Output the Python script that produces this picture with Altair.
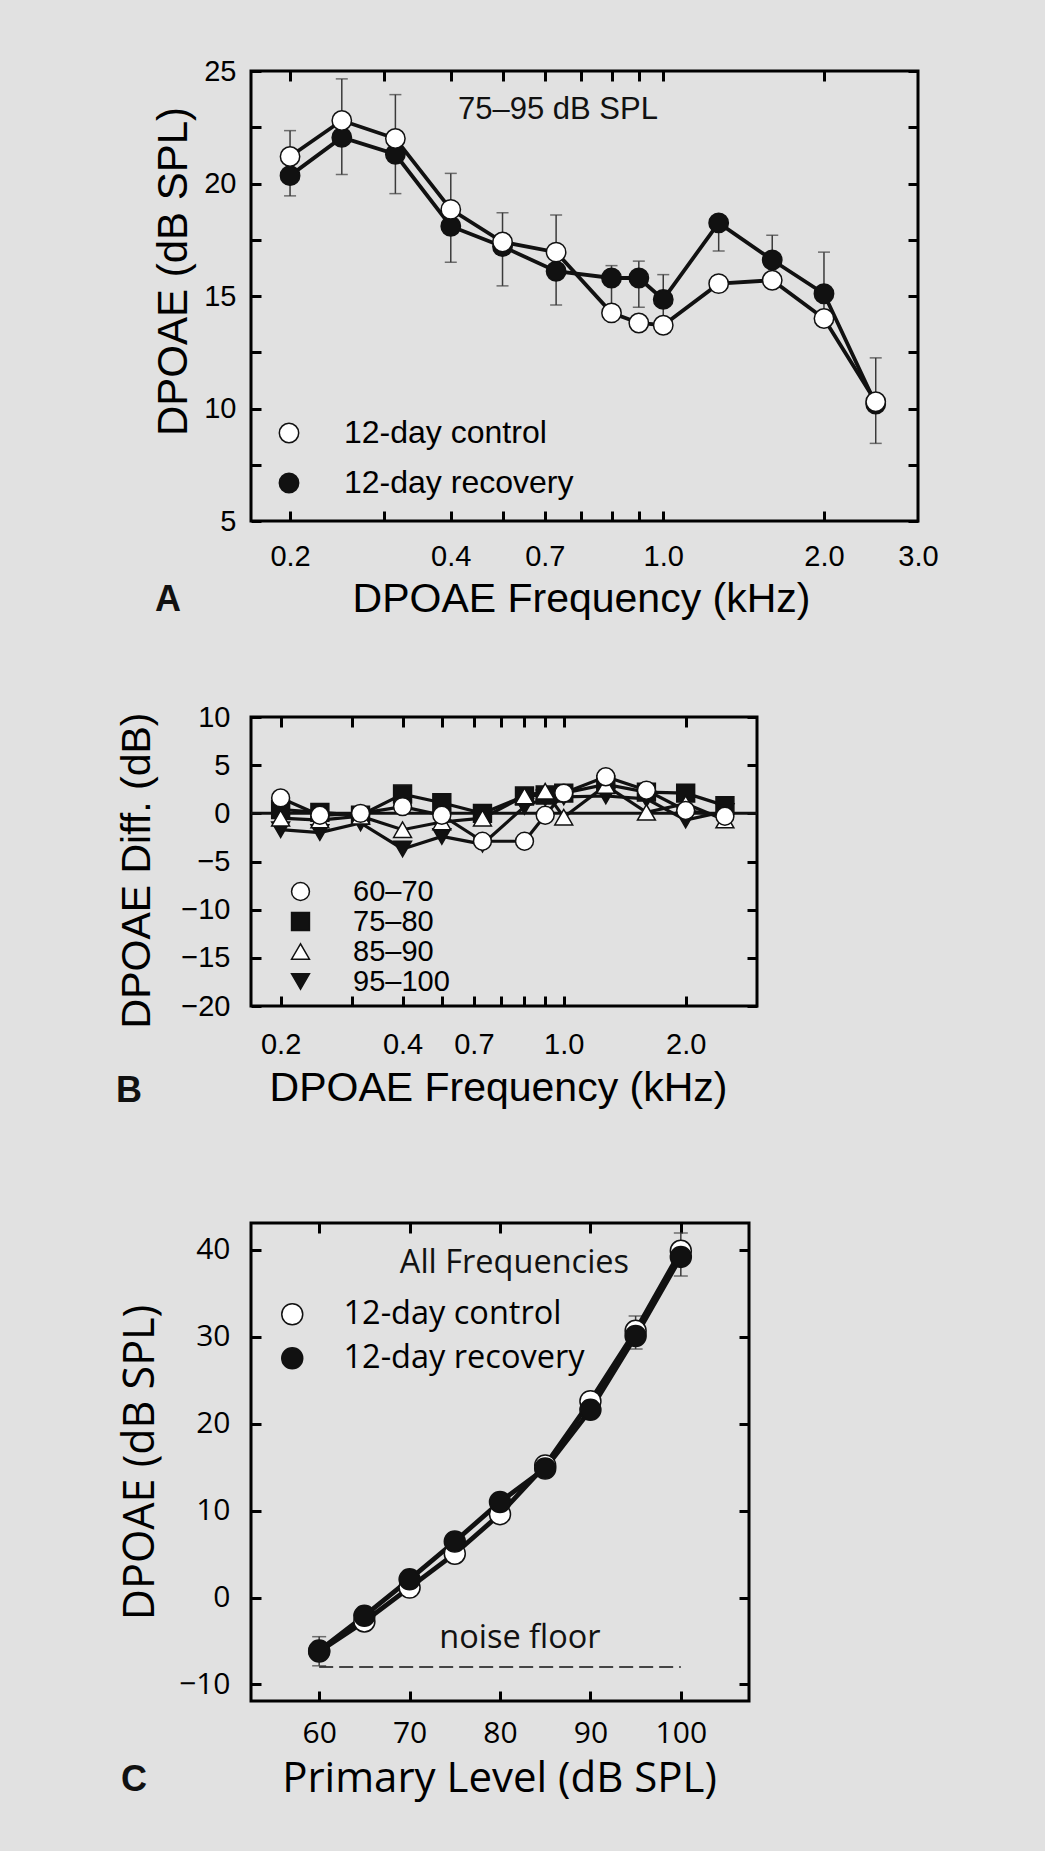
import altair as alt
import pandas as pd

# ---------------- data ----------------
FREQ = [0.2, 0.25, 0.315, 0.4, 0.5, 0.63, 0.8, 0.9, 1.0, 1.27, 1.6, 2.0, 2.5]

A_CONTROL = [21.2, 22.8, 22.0, 18.85, 17.4, 16.95, 14.25, 13.8, 13.7, 15.55, 15.7, 14.0, 10.3]
A_RECOVERY = [20.35, 22.05, 21.3, 18.1, 17.2, 16.1, 15.8, 15.8, 14.85, 18.25, 16.6, 15.1, 10.2]
A_ERR_HIGH = [22.35, 24.65, 23.95, 20.45, 18.7, 18.6, 16.35, 16.55, 15.95, 18.2, 17.7, 16.95, 12.25]
A_ERR_LOW = [19.45, 20.4, 19.55, 16.5, 15.45, 14.6, 14.4, 14.5, 13.9, 17.0, 15.9, 14.2, 8.45]

B_GROUPS = ["60–70", "75–80", "85–90", "95–100"]
B_60_70 = [1.6, -0.2, 0.0, 0.7, -0.2, -2.9, -2.9, -0.2, 2.1, 3.8, 2.4, 0.3, -0.3]
B_75_80 = [0.4, 0.1, -0.2, 2.0, 1.1, 0.0, 1.8, 1.9, 2.1, 3.0, 2.2, 2.1, 0.8]
B_85_90 = [-0.5, -0.7, -0.3, -1.7, -0.9, -0.5, 1.8, 2.3, -0.4, 2.9, 0.1, 1.0, -0.7]
B_95_100 = [-1.7, -2.0, -1.0, -3.7, -2.4, -3.2, 0.7, 1.6, 1.7, 1.8, 1.5, -0.7, 0.2]

C_LEVEL = [60, 65, 70, 75, 80, 85, 90, 95, 100]
C_CONTROL = [-6.2, -2.75, 1.15, 5.05, 9.6, 15.2, 22.6, 30.7, 39.9]
C_RECOVERY = [-6.1, -2.1, 2.1, 6.45, 11.0, 14.85, 21.6, 30.1, 39.2]
C_ERR_HIGH = [-4.5, -1.5, 3.0, 7.2, 11.8, 16.0, 23.5, 32.4, 41.95]
C_ERR_LOW = [-7.85, -3.5, 0.5, 4.4, 9.0, 14.2, 21.0, 28.6, 37.0]
NOISE_LEVEL = [60, 100]
NOISE_FLOOR = [-8.0, -8.0]

CTRL = "12-day control"
RECOV = "12-day recovery"

X_TICKS_AB = [0.2, 0.3, 0.4, 0.5, 0.6, 0.7, 0.8, 0.9, 1.0, 2.0]
X_LABELS_A = [0.2, 0.4, 0.6, 1.0, 2.0, 3.0]
X_LABELS_B = [0.2, 0.4, 0.6, 1.0, 2.0]
Y_TICKS_A = [5, 7.5, 10, 12.5, 15, 17.5, 20, 22.5, 25]
Y_LABELS_A = [5, 10, 15, 20, 25]
Y_TICKS_B = [-20, -15, -10, -5, 0, 5, 10]
X_TICKS_C = [60, 70, 80, 90, 100]
Y_TICKS_C = [-10, 0, 10, 20, 30, 40]

FONT = "Liberation Sans, Arial, Helvetica, sans-serif"
FONT_C = "Open Sans, Noto Sans, Liberation Sans, sans-serif"
BG = "#e1e1e1"
INK = "#111111"
FREQ_LABEL = "datum.value == 0.6 ? '0.7' : format(datum.value, '.1f')"


# ---------------- helpers ----------------
def axis_ticks(orient, values, extent=0):
    return alt.Axis(orient=orient, values=values, offset=-10, tickSize=10, tickWidth=3,
                    tickColor="black", labels=False, domain=False, grid=False, title=None,
                    minExtent=extent, maxExtent=extent)


def axis_labels_x(values, title, title_x, title_y, pad, expr=None, font=FONT, size=29,
                  tsize=41):
    kw = dict(orient="bottom", values=values, title=title, titleX=title_x, titleY=title_y,
              titleAlign="center", titleBaseline="alphabetic", labelPadding=pad,
              ticks=False, domain=False, grid=False, labelOverlap=False, labelFlush=False,
              labelFontSize=size, titleFontSize=tsize, labelFont=font, titleFont=font,
              labelColor="black", titleColor="black", titleFontWeight="normal")
    if expr:
        kw["labelExpr"] = expr
    return alt.Axis(**kw)


def axis_labels_y(values, title, title_x, title_y, pad, font=FONT, size=29, tsize=42):
    return alt.Axis(orient="left", values=values, title=title, titleX=title_x, titleY=title_y,
                    titleAngle=270, titleBaseline="middle", titleAlign="center",
                    labelPadding=pad, ticks=False, domain=False, grid=False,
                    labelOverlap=False, labelFlush=False, labelFontSize=size,
                    titleFontSize=tsize, labelFont=font, titleFont=font, labelColor="black",
                    titleColor="black", titleFontWeight="normal", minExtent=0)


def legend(x, y, size, font_size, offset, row_pad, font=FONT, symbol=None):
    kw = dict(orient="none", legendX=x, legendY=y, title=None, symbolSize=size,
              symbolStrokeColor=INK, symbolStrokeWidth=1.5, symbolOpacity=1,
              labelFontSize=font_size, labelOffset=offset, rowPadding=row_pad, padding=0,
              labelFont=font, labelColor="black", labelLimit=500)
    if symbol:
        kw["symbolType"] = symbol
    return alt.Legend(**kw)


def letter(ch, x, y):
    return alt.Chart(pd.DataFrame({"letter": [ch]})).mark_text(
        fontSize=36, fontWeight="bold", font=FONT, align="center", baseline="alphabetic",
        color=INK).encode(text="letter:N", x=alt.value(x), y=alt.value(y))


# ---------------- panel A ----------------
n = len(FREQ)
a_df = pd.DataFrame({
    "freq": FREQ * 2,
    "dpoae": A_RECOVERY + A_CONTROL,
    "group": [RECOV] * n + [CTRL] * n,
})
a_err = pd.DataFrame({"freq": FREQ, "lo": A_ERR_LOW, "hi": A_ERR_HIGH})
a_note = pd.DataFrame({"freq": [0.635], "db": [23.27], "txt": ["75–95 dB SPL"]})

xa = alt.Scale(type="log", domain=[0.169, 3.0], nice=False)
ya = alt.Scale(domain=[5, 25], nice=False, zero=False)

a_rule = alt.Chart(a_err).mark_rule(color="#3a3a3a", strokeWidth=1.5).encode(
    x=alt.X("freq:Q", scale=xa, axis=axis_ticks("top", X_TICKS_AB)),
    y=alt.Y("lo:Q", scale=ya, axis=axis_ticks("right", Y_TICKS_A)),
    y2="hi:Q")
a_cap_lo = alt.Chart(a_err).mark_tick(color="#3a3a3a", orient="horizontal", size=12,
                                      thickness=1.5).encode(
    x=alt.X("freq:Q", scale=xa, axis=None), y=alt.Y("lo:Q", scale=ya, axis=None))
a_cap_hi = alt.Chart(a_err).mark_tick(color="#3a3a3a", orient="horizontal", size=12,
                                      thickness=1.5).encode(
    x=alt.X("freq:Q", scale=xa, axis=None), y=alt.Y("hi:Q", scale=ya, axis=None))
a_lines = alt.Chart(a_df).mark_line(color=INK, strokeWidth=3.8).encode(
    x=alt.X("freq:Q", scale=xa,
            axis=axis_labels_x(X_LABELS_A, "DPOAE Frequency (kHz)", 330, 90, 21,
                               FREQ_LABEL)),
    y=alt.Y("dpoae:Q", scale=ya,
            axis=axis_labels_y(Y_LABELS_A, "DPOAE (dB SPL)", -78, 200, 15)),
    detail="group:N")
a_points = alt.Chart(a_df).mark_point(filled=True, shape="circle", size=375, stroke=INK,
                                      strokeWidth=1.5, opacity=1).encode(
    x=alt.X("freq:Q", scale=xa, axis=axis_ticks("bottom", X_TICKS_AB)),
    y=alt.Y("dpoae:Q", scale=ya, axis=axis_ticks("left", Y_TICKS_A)),
    fill=alt.Fill("group:N", scale=alt.Scale(domain=[CTRL, RECOV], range=["white", INK]),
                  legend=legend(22, 346, 375, 32, 39, 18, symbol="circle")))
a_text = alt.Chart(a_note).mark_text(fontSize=31, font=FONT, color=INK, align="center",
                                     baseline="middle").encode(
    x=alt.X("freq:Q", scale=xa, axis=None), y=alt.Y("db:Q", scale=ya, axis=None),
    text="txt:N")

panel_a = alt.layer(a_rule, a_cap_lo, a_cap_hi, a_lines, a_points, a_text,
                    letter("A", -83, 540)).properties(
    width=667, height=450).resolve_axis(x="independent", y="independent")

# ---------------- panel B ----------------
order_b = ["75–80", "95–100", "85–90", "60–70"]
vals_b = {"60–70": B_60_70, "75–80": B_75_80, "85–90": B_85_90, "95–100": B_95_100}
b_df = pd.DataFrame({
    "freq": FREQ * 4,
    "diff": sum([vals_b[g] for g in order_b], []),
    "group": sum([[g] * n for g in order_b], []),
})
b_zero = pd.DataFrame({"zero": [0]})

xb = alt.Scale(type="log", domain=[0.169, 3.0], nice=False)
yb = alt.Scale(domain=[-20, 10], nice=False, zero=False)

b_rule = alt.Chart(b_zero).mark_rule(color=INK, strokeWidth=3).encode(
    y=alt.Y("zero:Q", scale=yb, axis=axis_ticks("right", Y_TICKS_B)))
b_lines = alt.Chart(b_df).mark_line(color=INK, strokeWidth=3.2).encode(
    x=alt.X("freq:Q", scale=xb,
            axis=axis_labels_x(X_LABELS_B, "DPOAE Frequency (kHz)", 247, 94, 24,
                               FREQ_LABEL)),
    y=alt.Y("diff:Q", scale=yb,
            axis=axis_labels_y(Y_TICKS_B, "DPOAE Diff. (dB)", -114, 153, 21, tsize=41)),
    detail="group:N")
b_top = alt.Chart(b_df).mark_line(opacity=0).encode(
    x=alt.X("freq:Q", scale=xb, axis=axis_ticks("top", X_TICKS_AB)),
    y=alt.Y("diff:Q", scale=yb, axis=None), detail="group:N")
b_leg = legend(35, 160, 320, 29, 38, 0)
b_points = alt.Chart(b_df).mark_point(filled=True, size=320, strokeWidth=1.5,
                                      opacity=1).encode(
    x=alt.X("freq:Q", scale=xb, axis=axis_ticks("bottom", X_TICKS_AB)),
    y=alt.Y("diff:Q", scale=yb, axis=axis_ticks("left", Y_TICKS_B)),
    shape=alt.Shape("group:N", scale=alt.Scale(
        domain=B_GROUPS, range=["circle", "square", "triangle-up", "triangle-down"]),
        legend=b_leg),
    fill=alt.Fill("group:N", scale=alt.Scale(domain=B_GROUPS,
                                             range=["white", INK, "white", INK]),
                  legend=b_leg),
    stroke=alt.Stroke("group:N", scale=alt.Scale(domain=B_GROUPS, range=[INK] * 4),
                      legend=b_leg))

panel_b = alt.layer(b_rule, b_lines, b_top, b_points, letter("B", -122, 385)).properties(
    width=506, height=289).resolve_axis(x="independent", y="independent")

# ---------------- panel C ----------------
m = len(C_LEVEL)
c_df = pd.DataFrame({
    "level": C_LEVEL * 2,
    "dpoae": C_CONTROL + C_RECOVERY,
    "group": [CTRL] * m + [RECOV] * m,
})
c_err = pd.DataFrame({"level": C_LEVEL, "lo": C_ERR_LOW, "hi": C_ERR_HIGH})
c_noise = pd.DataFrame({"level": NOISE_LEVEL, "db": NOISE_FLOOR})
c_notes = pd.DataFrame({"level": [81.6, 82.2], "db": [38.5, -4.7],
                        "txt": ["All Frequencies", "noise floor"]})

xc = alt.Scale(domain=[52.46, 107.54], nice=False, zero=False)
yc = alt.Scale(domain=[-11.9, 43.1], nice=False, zero=False)

c_rule = alt.Chart(c_err).mark_rule(color="#3a3a3a", strokeWidth=1.5).encode(
    x=alt.X("level:Q", scale=xc, axis=axis_ticks("top", X_TICKS_C, extent=40)),
    y=alt.Y("lo:Q", scale=yc, axis=axis_ticks("right", Y_TICKS_C)),
    y2="hi:Q")
c_cap_lo = alt.Chart(c_err).mark_tick(color="#3a3a3a", orient="horizontal", size=14,
                                      thickness=1.5).encode(
    x=alt.X("level:Q", scale=xc, axis=None), y=alt.Y("lo:Q", scale=yc, axis=None))
c_cap_hi = alt.Chart(c_err).mark_tick(color="#3a3a3a", orient="horizontal", size=14,
                                      thickness=1.5).encode(
    x=alt.X("level:Q", scale=xc, axis=None), y=alt.Y("hi:Q", scale=yc, axis=None))
c_noise_line = alt.Chart(c_noise).mark_line(color=INK, strokeWidth=1.5,
                                            strokeDash=[14, 6]).encode(
    x=alt.X("level:Q", scale=xc, axis=None), y=alt.Y("db:Q", scale=yc, axis=None))
c_lines = alt.Chart(c_df).mark_line(color=INK, strokeWidth=4.8).encode(
    x=alt.X("level:Q", scale=xc,
            axis=axis_labels_x(X_TICKS_C, "Primary Level (dB SPL)", 248, 90, 17,
                               font=FONT_C, size=30, tsize=42)),
    y=alt.Y("dpoae:Q", scale=yc,
            axis=axis_labels_y(Y_TICKS_C, "DPOAE (dB SPL)", -111, 239, 21, font=FONT_C,
                               size=30, tsize=43)),
    detail="group:N")
c_points = alt.Chart(c_df).mark_point(filled=True, shape="circle", size=440, stroke=INK,
                                      strokeWidth=1.5, opacity=1).encode(
    x=alt.X("level:Q", scale=xc, axis=axis_ticks("bottom", X_TICKS_C)),
    y=alt.Y("dpoae:Q", scale=yc, axis=axis_ticks("left", Y_TICKS_C)),
    fill=alt.Fill("group:N", scale=alt.Scale(domain=[CTRL, RECOV], range=["white", INK]),
                  legend=legend(25, 75, 440, 32.5, 35, 11, font=FONT_C, symbol="circle")))
c_text = alt.Chart(c_notes).mark_text(fontSize=32.5, font=FONT_C, color=INK, align="center",
                                      baseline="middle").encode(
    x=alt.X("level:Q", scale=xc, axis=None), y=alt.Y("db:Q", scale=yc, axis=None),
    text="txt:N")

panel_c = alt.layer(c_rule, c_cap_lo, c_cap_hi, c_noise_line, c_lines, c_points, c_text,
                    letter("C", -117, 568)).properties(
    width=498, height=478).resolve_axis(x="independent", y="independent")

chart = alt.vconcat(panel_a, panel_b, panel_c, spacing=80).resolve_scale(
    fill="independent", shape="independent", stroke="independent"
).configure(
    background=BG, font=FONT,
    padding={"left": 114, "top": 55, "right": 105, "bottom": 50},
).configure_view(stroke="black", strokeWidth=3, fill=None)

chart.save("out.html", embed_options={"renderer": "svg", "actions": False})
